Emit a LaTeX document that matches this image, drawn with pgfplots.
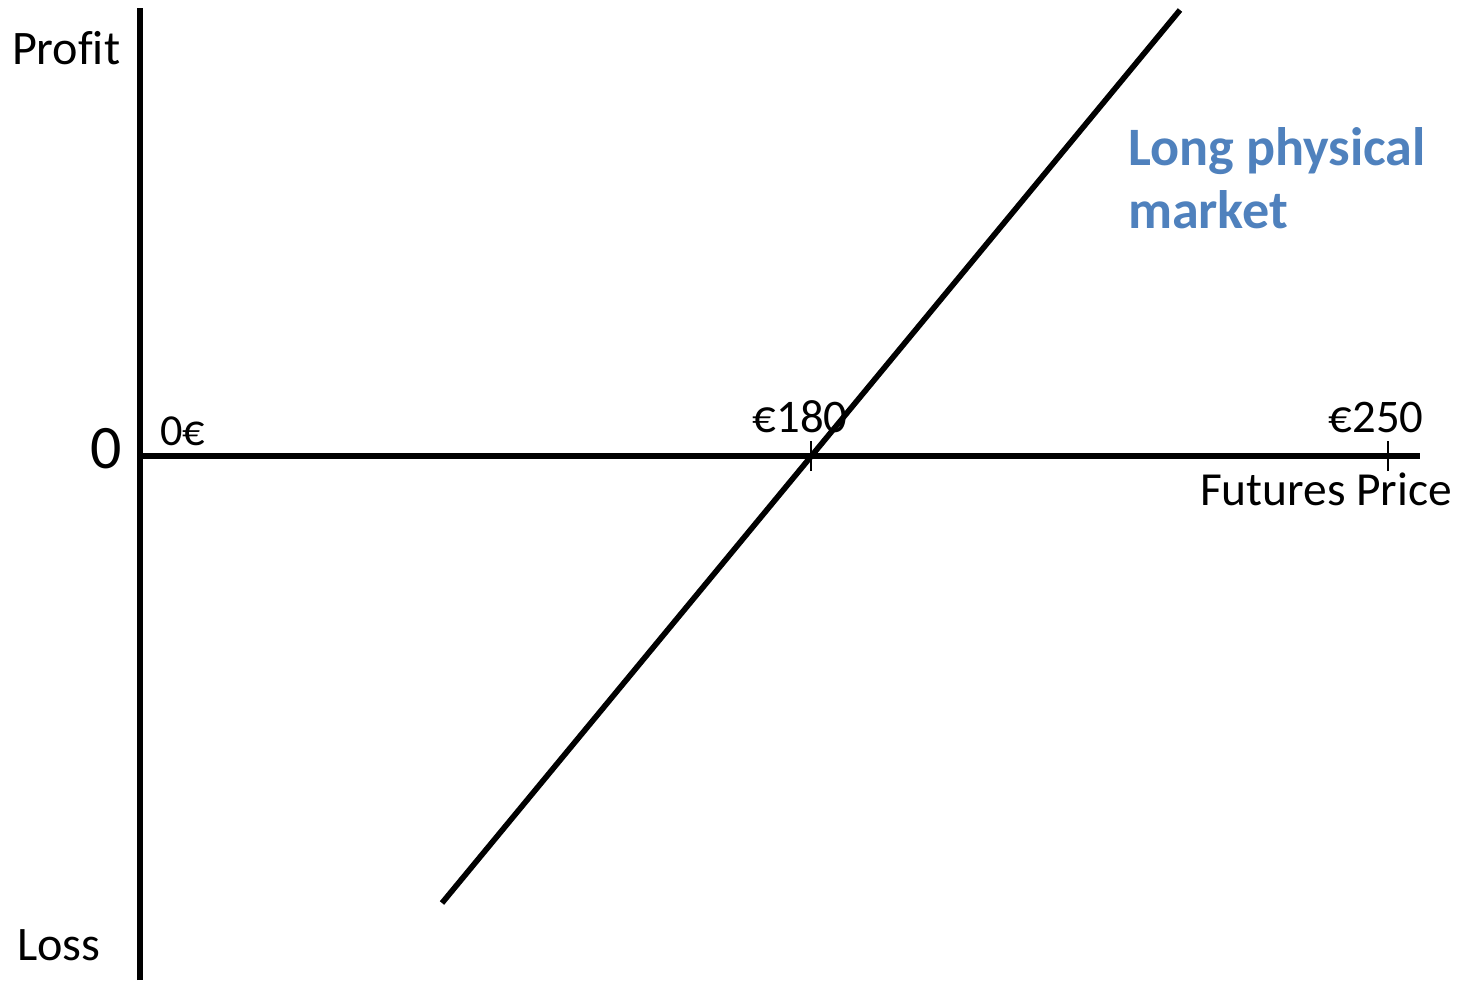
\documentclass[border=0pt]{standalone}
\usepackage{fontspec}
\setmainfont{Carlito}[Ligatures=NoCommon]
\usepackage{pgfplots}
\pgfplotsset{compat=1.18}
\definecolor{officeblue}{RGB}{79,129,189}

\begin{document}
\begin{tikzpicture}[lbl/.style={inner sep=0pt, outer sep=0pt}]
\begin{axis}[
    scale only axis,
    width=14.66cm, height=9.81cm,
    xmin=-140, xmax=1326, ymin=-525, ymax=456,
    hide axis,
    clip=false,
  ]
  % keep the full canvas in the bounding box
  \path (axis cs:-140,-525) rectangle (axis cs:1326,456);
  % axes
  \addplot[black, line width=1.7pt] coordinates {(0,-524) (0,448)};
  \addplot[black, line width=1.7pt] coordinates {(0,0) (1280,0)};
  % ticks
  \addplot[black, line width=0.5pt] coordinates {(671,-15) (671,15)};
  \addplot[black, line width=0.5pt] coordinates {(1248,-15) (1248,15)};
  % payoff line
  \addplot[black, line width=1.6pt] coordinates {(302,-447) (1040,446)};

  \node[lbl, anchor=base west, font=\fontsize{13.7}{16}\selectfont] at (axis cs:-128,392) {Profit};
  \node[lbl, anchor=base west, font=\fontsize{13.7}{16}\selectfont] at (axis cs:-123,-504) {Loss};
  \node[lbl, anchor=base east, font=\fontsize{17.6}{20}\selectfont] at (axis cs:-18,-12) {0};
  \node[lbl, anchor=base west, font=\fontsize{12.6}{15}\selectfont] at (axis cs:20,11) {0€};
  \node[lbl, anchor=base, font=\fontsize{13.3}{16}\selectfont] at (axis cs:660,24) {€180};
  \node[lbl, anchor=base, font=\fontsize{13.3}{16}\selectfont] at (axis cs:1236,24) {€250};
  \node[lbl, anchor=base east, font=\fontsize{13.5}{16}\selectfont] at (axis cs:1312,-49) {Futures Price};
  \node[lbl, anchor=base west, text=officeblue, font=\bfseries\fontsize{15.4}{18}\selectfont] at (axis cs:988,291) {Long physical};
  \node[lbl, anchor=base west, text=officeblue, font=\bfseries\fontsize{15.4}{18}\selectfont] at (axis cs:988,228) {market};
\end{axis}
\end{tikzpicture}
\end{document}
